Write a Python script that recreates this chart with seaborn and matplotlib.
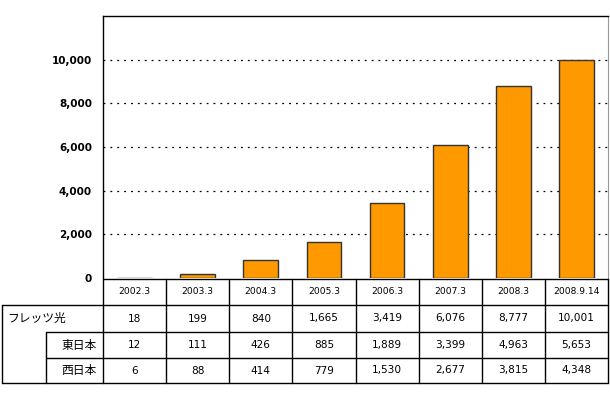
import matplotlib
matplotlib.use("Agg")
import matplotlib.pyplot as plt
import seaborn as sns
import pandas as pd

periods = ["2002.3", "2003.3", "2004.3", "2005.3", "2006.3", "2007.3", "2008.3", "2008.9.14"]
flets_total = [18, 199, 840, 1665, 3419, 6076, 8777, 10001]
east = [12, 111, 426, 885, 1889, 3399, 4963, 5653]
west = [6, 88, 414, 779, 1530, 2677, 3815, 4348]
row_labels = ["フレッツ光", "東日本", "西日本"]

sns.set_style("white")
plt.rcParams["font.family"] = ["DejaVu Sans", "Noto Sans CJK JP"]
plt.rcParams["text.color"] = "black"
plt.rcParams["ytick.color"] = "black"
plt.rcParams["ytick.labelcolor"] = "black"
jp_font = ["Noto Sans CJK JP", "DejaVu Sans"]

df = pd.DataFrame({"period": periods, "value": flets_total})

W, H = 610, 400
fig = plt.figure(figsize=(W / 100, H / 100), dpi=100)

# plot area in pixel terms
left, right, top, zero = 103, 608, 16, 278
ax = fig.add_axes([left / W, 1 - zero / H, (right - left) / W, (zero - top) / H])
sns.barplot(data=df, x="period", y="value", color="#FF9900", width=0.55,
            edgecolor="#333333", linewidth=1, saturation=1, ax=ax)
ax.set_ylim(0, 12000)
ax.set_xlim(-0.5, len(periods) - 0.5)
ax.set_yticks(range(0, 12000, 2000))
ax.set_yticklabels([f"{v:,}" for v in range(0, 12000, 2000)],
                   fontsize=7.5, fontweight="bold", color="black")
ax.set_xticks([])
ax.set_xlabel("")
ax.set_ylabel("")
for y in range(2000, 12000, 2000):
    ax.axhline(y, color="black", linestyle=(0, (1.5, 4)), linewidth=0.9, zorder=0)
ax.tick_params(axis="y", length=2.2, width=0.8, color="black", pad=5.8)
for s in ["left", "top"]:
    ax.spines[s].set_color("black")
    ax.spines[s].set_linewidth(1)
ax.spines["right"].set_color("#999999")
ax.spines["right"].set_linewidth(0.8)
ax.spines["bottom"].set_visible(False)

# data table below the chart
tb = fig.add_axes([0, 0, 1, 1])
tb.set_xlim(0, W)
tb.set_ylim(H, 0)
tb.axis("off")
row_y = [279, 305, 332, 358, 383]
inner = 46
col_w = (right - left) / len(periods)
lw = 1.0
tb.plot([left, right], [row_y[0], row_y[0]], color="black", lw=lw)
tb.plot([2, right], [row_y[1], row_y[1]], color="black", lw=lw)
tb.plot([inner, right], [row_y[2], row_y[2]], color="black", lw=lw)
tb.plot([inner, right], [row_y[3], row_y[3]], color="black", lw=lw)
tb.plot([2, right], [row_y[4], row_y[4]], color="black", lw=lw)
tb.plot([2, 2], [row_y[1], row_y[4]], color="black", lw=lw)
tb.plot([inner, inner], [row_y[2], row_y[4]], color="black", lw=lw)
for i in range(len(periods) + 1):
    x = left + i * col_w
    tb.plot([x, x], [row_y[0], row_y[4]], color="black", lw=lw)

for i, p in enumerate(periods):
    cx = left + (i + 0.5) * col_w
    tb.text(cx, (row_y[0] + row_y[1]) / 2, p, ha="center", va="center", fontsize=6.6)
    for r, series in enumerate([flets_total, east, west]):
        tb.text(cx, (row_y[r + 1] + row_y[r + 2]) / 2, f"{series[i]:,}",
                ha="center", va="center", fontsize=7.6)

tb.text(7, (row_y[1] + row_y[2]) / 2, row_labels[0], ha="left", va="center",
        fontsize=8.5, family=jp_font)
tb.text(97, (row_y[2] + row_y[3]) / 2, row_labels[1], ha="right", va="center",
        fontsize=8.5, family=jp_font)
tb.text(97, (row_y[3] + row_y[4]) / 2, row_labels[2], ha="right", va="center",
        fontsize=8.5, family=jp_font)

fig.savefig("out.png", dpi=100)
